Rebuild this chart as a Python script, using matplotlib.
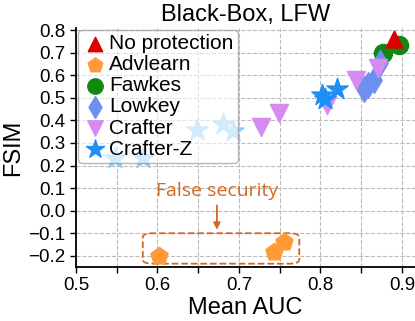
import matplotlib
matplotlib.use('Agg')
import matplotlib.pyplot as plt
from matplotlib.patches import FancyBboxPatch
from matplotlib.ticker import MultipleLocator

plt.rcParams['font.family'] = ['Liberation Sans', 'DejaVu Sans']

# data
noprot_x = [0.890]
noprot_y = [0.760]
adv_x = [0.602, 0.743, 0.755]
adv_y = [-0.200, -0.182, -0.138]
fawkes_x = [0.877, 0.896]
fawkes_y = [0.698, 0.734]
lowkey_x = [0.853, 0.858, 0.866, 0.873]
lowkey_y = [0.540, 0.555, 0.578, 0.655]
crafter_x = [0.727, 0.749, 0.808, 0.844, 0.871]
crafter_y = [0.371, 0.433, 0.468, 0.579, 0.632]
crz_x = [0.802, 0.820, 0.806]
crz_y = [0.512, 0.539, 0.495]
crz_light_x = [0.648, 0.680, 0.693, 0.548, 0.582]
crz_light_y = [0.358, 0.384, 0.353, 0.234, 0.234]

box_color = '#CF6A25'

fig = plt.figure(figsize=(4.15, 3.21), dpi=100)
ax = fig.add_axes([0.183, 0.168, 0.817, 0.745])

ax.scatter(crz_light_x, crz_light_y, marker='*', s=260, color='#8ECDF8', zorder=3)
ax.scatter(noprot_x, noprot_y, marker='^', s=150, color='#DD0000', label='No protection', zorder=4)
ax.scatter(adv_x, adv_y, marker='p', s=170, color='#FF9A36', label='Advlearn', zorder=3)
ax.scatter(fawkes_x, fawkes_y, marker='o', s=170, color='#118811', label='Fawkes', zorder=3)
ax.scatter(lowkey_x, lowkey_y, marker='d', s=170, color='#6C8FF0', label='Lowkey', zorder=3)
ax.scatter(crafter_x, crafter_y, marker='v', s=170, color='#D68BF3', label='Crafter', zorder=3)
ax.scatter(crz_x, crz_y, marker='*', s=260, color='#1E8FF5', label='Crafter-Z', zorder=3)

box = FancyBboxPatch((0.582, -0.235), 0.192, 0.135,
                     boxstyle='round,pad=0,rounding_size=0.012',
                     fill=False, edgecolor=box_color, linestyle='--', linewidth=1.3,
                     mutation_aspect=1.5, zorder=2)
ax.add_patch(box)
ax.annotate('', xy=(0.673, -0.097), xytext=(0.673, 0.036),
            arrowprops=dict(arrowstyle='-|>', color=box_color, lw=1.3))
ax.text(0.673, 0.085, 'False security', color=box_color, fontsize=14,
        ha='center', va='center', family=['Open Sans', 'DejaVu Sans'])

ax.set_xlim(0.5, 0.916)
ax.set_ylim(-0.25, 0.81)
ax.xaxis.set_major_locator(MultipleLocator(0.1))
ax.xaxis.set_minor_locator(MultipleLocator(0.05))
ax.yaxis.set_major_locator(MultipleLocator(0.1))
ax.tick_params(which='both', direction='out', length=4, width=1, labelsize=13.5)
ax.grid(True, which='both', axis='x', linestyle='--', color='#BBBBBB', linewidth=0.8)
ax.grid(True, which='major', axis='y', linestyle='--', color='#BBBBBB', linewidth=0.8)
ax.set_axisbelow(True)
for side in ['top', 'right']:
    ax.spines[side].set_visible(False)
ax.spines['left'].set_linewidth(1.3)
ax.spines['bottom'].set_linewidth(1.3)

ax.set_title('Black-Box, LFW', fontsize=17, pad=5)
ax.set_xlabel('Mean AUC', fontsize=17, labelpad=2)
ax.set_ylabel('FSIM', fontsize=17, labelpad=3)

leg = ax.legend(loc='upper left', fontsize=15, handletextpad=0.1, borderpad=0.2,
                labelspacing=0.1, borderaxespad=0.1, handlelength=1.2, markerscale=0.85,
                edgecolor='#888888', framealpha=0.6, fancybox=True)

fig.savefig('out.png', dpi=100)
